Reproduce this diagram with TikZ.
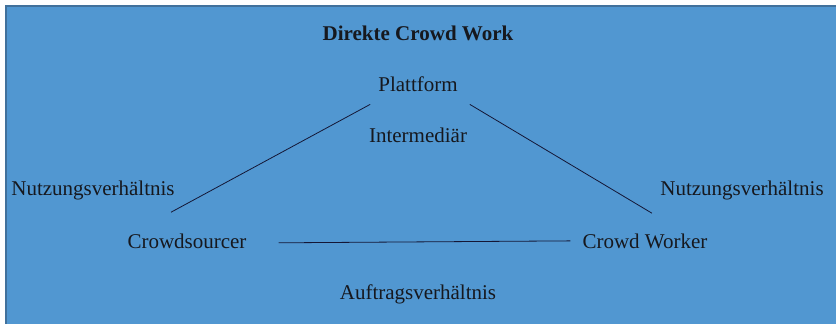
\documentclass[tikz,border=0pt]{standalone}
\usepackage{fontspec}
\setmainfont{Liberation Serif}
\definecolor{bgblue}{RGB}{81,151,209}
\definecolor{edgeblue}{RGB}{65,113,156}
\definecolor{ink}{RGB}{22,24,30}
\tikzset{
  lbl/.style={inner sep=0pt, anchor=base, text=ink, font=\fontsize{21}{25}\selectfont},
  rel/.style={draw=ink!90!blue, line width=0.8pt}
}
\begin{document}
\begin{tikzpicture}[x=1pt,y=-1pt]
\useasboundingbox (0,0) rectangle (836,324);
\fill[bgblue] (6,6) rectangle (836,324);
\draw[edgeblue, line width=1.2pt] (6,324) -- (6,6) -- (836,6);

\node[lbl, font=\fontsize{21}{25}\selectfont\bfseries] (0) at (418,40) {Direkte Crowd Work};
\node[lbl] (1) at (418,91) {Plattform};
\node[lbl] (2) at (187,248) {Crowdsourcer};
\node[lbl] (3) at (645,248) {Crowd Worker};

\node[lbl] (4) at (418,142) {Intermediär};
\node[lbl] (5) at (93,195) {Nutzungsverhältnis};
\node[lbl] (6) at (742,195) {Nutzungsverhältnis};
\node[lbl] (7) at (418,299) {Auftragsverhältnis};

\path[rel] ([xshift=-8pt,yshift=-13pt]1.south west) -- ([xshift=-16pt,yshift=21pt]2.north);
\path[rel] ([xshift=12pt,yshift=-13pt]1.south east) -- ([xshift=7pt,yshift=20pt]3.north);
\path[rel] ([xshift=32pt,yshift=-2pt]2.east) -- ([xshift=-12pt]3.west);
\end{tikzpicture}
\end{document}
